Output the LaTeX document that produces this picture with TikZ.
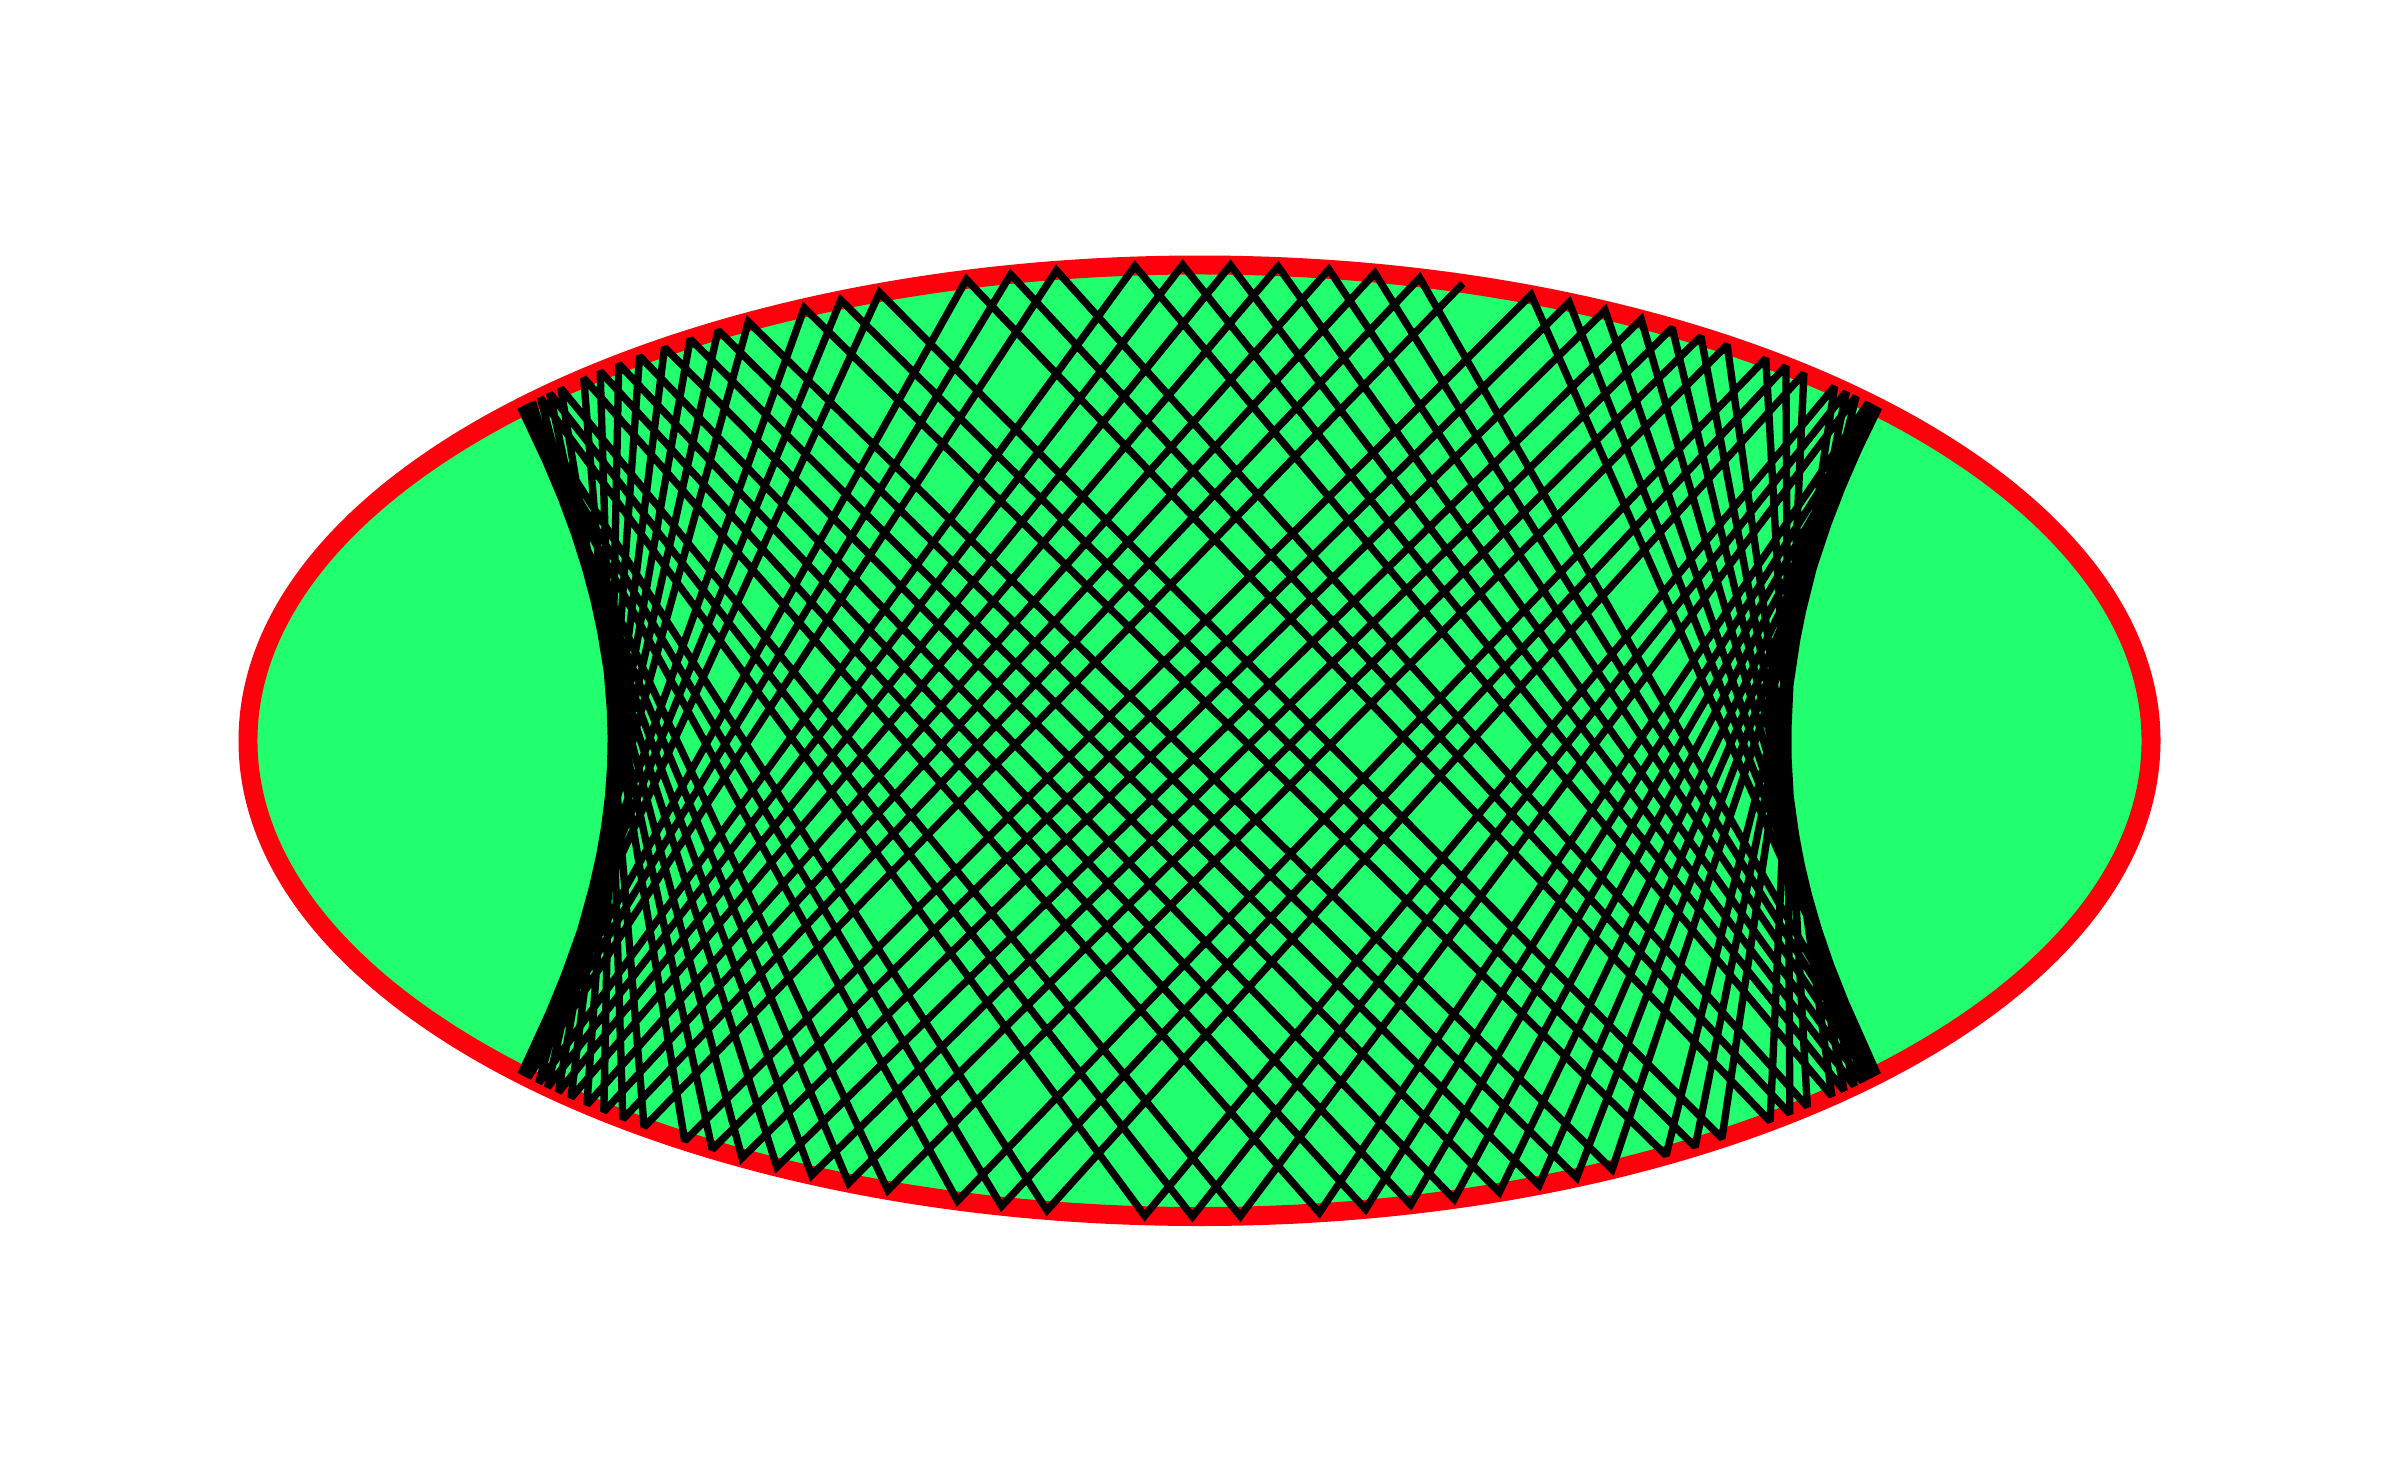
\documentclass[tikz,border=0pt]{standalone}
\usepackage{xfp}
\definecolor{feltgreen}{RGB}{34,255,110}
\definecolor{cushionred}{RGB}{255,0,12}

\begin{document}
\begin{tikzpicture}[x=4.7575cm,y=4.7575cm,
  billiard/.style={fill=feltgreen,draw=cushionred,line width=5.4pt},
  ray/.style={draw=black,line width=2.1pt,line join=miter,miter limit=2}
]
\useasboundingbox (-11.995cm,-7.4225cm) rectangle (12.005cm,7.4075cm);
\path[billiard] (0,0) ellipse (2 and 1);
% start on the rim, aimed along the hyperbolic caustic
\def\caus{1.23674}
\def\nbounce{90}
\xdef\bx{\fpeval{2*cosd(73.93)}}
\xdef\by{\fpeval{sind(73.93)}}
\xdef\qa{\fpeval{(\bx)^2-(\caus)^2}}
\xdef\qb{\fpeval{-2*(\bx)*(\by)}}
\xdef\qc{\fpeval{(\by)^2-(\caus)^2+3}}
\xdef\slope{\fpeval{(-(\qb)-sqrt((\qb)^2-4*(\qa)*(\qc)))/(2*(\qa))}}
\xdef\rdx{\fpeval{-1/sqrt(1+(\slope)^2)}}
\xdef\rdy{\fpeval{(\slope)*(\rdx)}}
\xdef\trail{(\fpeval{round(\bx,6)},\fpeval{round(\by,6)})}
\foreach \k in {1,...,\nbounce}{
  \xdef\hop{\fpeval{-2*((\bx)*(\rdx)/4+(\by)*(\rdy))/((\rdx)^2/4+(\rdy)^2)}}
  \xdef\bx{\fpeval{(\bx)+(\hop)*(\rdx)}}
  \xdef\by{\fpeval{(\by)+(\hop)*(\rdy)}}
  \xdef\nrml{\fpeval{sqrt(((\bx)/4)^2+(\by)^2)}}
  \xdef\nrmx{\fpeval{(\bx)/4/(\nrml)}}
  \xdef\nrmy{\fpeval{(\by)/(\nrml)}}
  \xdef\dotn{\fpeval{(\rdx)*(\nrmx)+(\rdy)*(\nrmy)}}
  \xdef\rdx{\fpeval{(\rdx)-2*(\dotn)*(\nrmx)}}
  \xdef\rdy{\fpeval{(\rdy)-2*(\dotn)*(\nrmy)}}
  \xdef\trail{\trail -- (\fpeval{round(\bx,6)},\fpeval{round(\by,6)})}
}
\draw[ray] \trail;
\end{tikzpicture}
\end{document}
